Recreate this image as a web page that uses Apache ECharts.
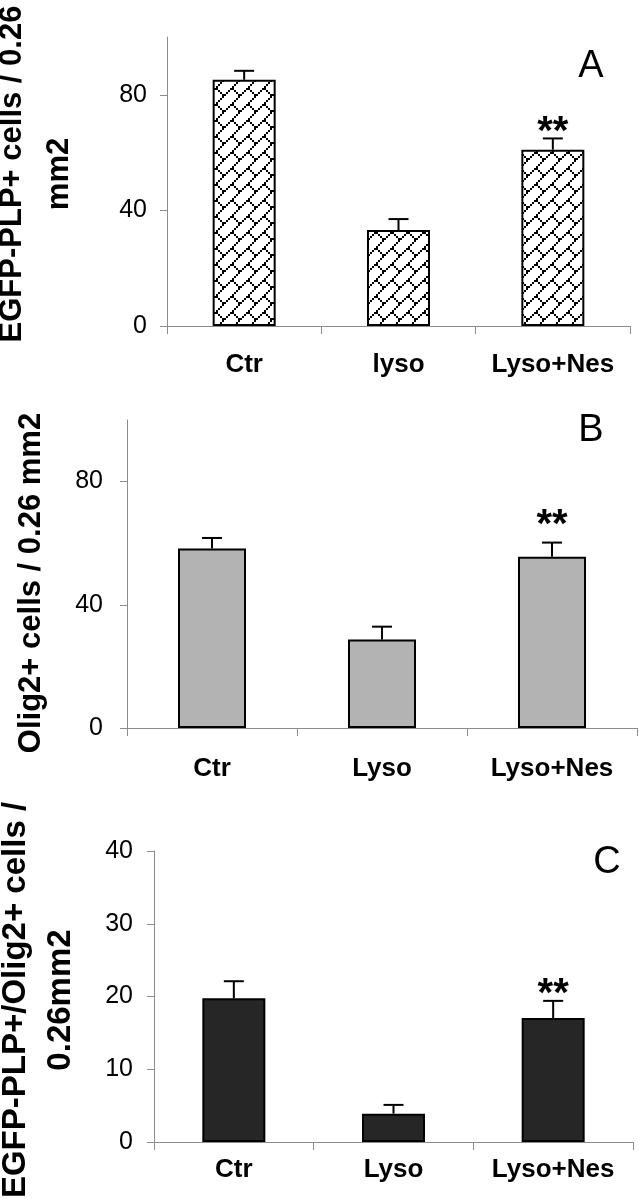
<!DOCTYPE html>
<html>
<head>
<meta charset="utf-8">
<script src="https://cdn.jsdelivr.net/npm/echarts@6/dist/echarts.min.js"></script>
<style>
html,body{margin:0;padding:0;background:#fff;}
#chart{width:639px;height:1199px;}
</style>
</head>
<body>
<div id="chart"></div>
<script>
// ---- data ----
const categoriesA = ['Ctr', 'lyso', 'Lyso+Nes'];
const categoriesB = ['Ctr', 'Lyso', 'Lyso+Nes'];
const categoriesC = ['Ctr', 'Lyso', 'Lyso+Nes'];
const valuesA = [85.2, 33.2, 61.0];
const errorsA = [3.1, 3.8, 3.9];
const valuesB = [58.3, 28.7, 55.6];
const errorsB = [3.4, 4.2, 4.6];
const valuesC = [19.75, 3.9, 17.05];
const errorsC = [2.35, 1.2, 2.35];
const signifA = ['', '', '**'];
const signifB = ['', '', '**'];
const signifC = ['', '', '**'];
const ticksA = [0, 40, 80];
const ticksB = [0, 40, 80];
const ticksC = [0, 10, 20, 30, 40];
const titleA = 'EGFP-PLP+ cells / 0.26\nmm2';
const titleB = 'Olig2+ cells / 0.26 mm2';
const titleC = 'EGFP-PLP+/Olig2+ cells /\n0.26mm2';
const panelLetters = ['A', 'B', 'C'];

// ---- pattern (diagonal brick) ----
function makeBrick() {
  const c = document.createElement('canvas');
  c.width = 16; c.height = 16;
  const ctx = c.getContext('2d');
  ctx.fillStyle = '#fff';
  ctx.fillRect(0, 0, 16, 16);
  ctx.fillStyle = '#000';
  const rows = [0x01, 0x02, 0x04, 0x08, 0x18, 0x24, 0x42, 0x81];
  for (let r = 0; r < 8; r++) {
    for (let b = 0; b < 8; b++) {
      if (rows[r] & (1 << (7 - b))) ctx.fillRect(b * 2, r * 2, 2, 2);
    }
  }
  return c;
}
const brick = makeBrick();

const FONT = '"Liberation Sans", Arial, Helvetica, sans-serif';
const chart = echarts.init(document.getElementById('chart'), null, {renderer: 'canvas'});

const panels = [
  {grid: {left: 167, right: 9, top: 37, height: 289}, cats: categoriesA, vals: valuesA, errs: errorsA, sig: signifA,
   ticks: ticksA, max: 100, interval: 40, fill: {image: brick, repeat: 'repeat'}, barWidth: 63,
   ylabMargin: 20, xlabMargin: 26, sigGap: 5},
  {grid: {left: 127, right: 2, top: 420, height: 308}, cats: categoriesB, vals: valuesB, errs: errorsB, sig: signifB,
   ticks: ticksB, max: 100, interval: 40, fill: '#b3b3b3', barWidth: 68,
   ylabMargin: 24, xlabMargin: 28, sigGap: 17},
  {grid: {left: 154, right: 6, top: 851, height: 291}, cats: categoriesC, vals: valuesC, errs: errorsC, sig: signifC,
   ticks: ticksC, max: 40, interval: 10, fill: '#262626', barWidth: 63,
   ylabMargin: 21, xlabMargin: 15, sigGap: 6}
];

const grid = [], xAxis = [], yAxis = [], series = [];
panels.forEach((p, i) => {
  grid.push(Object.assign({containLabel: false}, p.grid));
  xAxis.push({
    type: 'category', gridIndex: i, data: p.cats, boundaryGap: true,
    axisLine: {lineStyle: {color: '#8c8c8c', width: 1}},
    axisTick: {show: true, inside: false, length: 8, alignWithLabel: false, lineStyle: {color: '#8c8c8c'}},
    axisLabel: {color: '#000', fontFamily: FONT, fontWeight: 'bold', fontSize: 26, margin: p.xlabMargin, interval: 0},
    splitLine: {show: false}
  });
  yAxis.push({
    type: 'value', gridIndex: i, min: 0, max: p.max, interval: p.interval,
    axisLine: {show: true, lineStyle: {color: '#8c8c8c', width: 1}},
    axisTick: {show: true, length: 7, lineStyle: {color: '#8c8c8c'}, customValues: p.ticks},
    axisLabel: {color: '#000', fontFamily: FONT, fontSize: 25, margin: p.ylabMargin, customValues: p.ticks},
    splitLine: {show: false}
  });
  series.push({
    type: 'bar', xAxisIndex: i, yAxisIndex: i, data: p.vals, barWidth: p.barWidth,
    itemStyle: {color: p.fill, borderColor: '#000', borderWidth: 2},
    silent: true, animation: false
  });
  const errData = p.vals.map((v, k) => [k, v, p.errs[k], k]);
  series.push({
    type: 'custom', xAxisIndex: i, yAxisIndex: i, data: errData, animation: false, silent: true, z: 5,
    encode: {x: 0, y: 1},
    renderItem: function (params, api) {
      const k = api.value(0), v = api.value(1), e = api.value(2);
      const p0 = api.coord([k, v]);
      const p1 = api.coord([k, v + e]);
      const half = 10;
      const children = [
        {type: 'line', shape: {x1: p0[0], y1: p0[1], x2: p1[0], y2: p1[1]}, style: {stroke: '#000', lineWidth: 2}},
        {type: 'line', shape: {x1: p1[0] - half, y1: p1[1], x2: p1[0] + half, y2: p1[1]}, style: {stroke: '#000', lineWidth: 2}}
      ];
      const s = p.sig[api.value(3)];
      if (s) {
        children.push({type: 'text', style: {text: s, x: p1[0], y: p1[1] - p.sigGap, align: 'center', verticalAlign: 'middle',
          font: 'bold 40px ' + FONT, fill: '#000'}});
      }
      return {type: 'group', children: children};
    }
  });
});

const graphic = [
  {type: 'text', x: 591, y: 67, style: {text: panelLetters[0], font: '38px ' + FONT, fill: '#000', align: 'center', verticalAlign: 'middle'}},
  {type: 'text', x: 591, y: 431, style: {text: panelLetters[1], font: '38px ' + FONT, fill: '#000', align: 'center', verticalAlign: 'middle'}},
  {type: 'text', x: 607, y: 863, style: {text: panelLetters[2], font: '38px ' + FONT, fill: '#000', align: 'center', verticalAlign: 'middle'}},
  {type: 'text', x: 36, y: 174, rotation: Math.PI / 2,
   style: {text: titleA, font: 'bold 31px ' + FONT, fill: '#000', align: 'center', verticalAlign: 'middle', lineHeight: 47}},
  {type: 'text', x: 31, y: 583, rotation: Math.PI / 2,
   style: {text: titleB, font: 'bold 31px ' + FONT, fill: '#000', align: 'center', verticalAlign: 'middle'}},
  {type: 'text', x: 38, y: 1000, rotation: Math.PI / 2,
   style: {text: titleC, font: 'bold 33px ' + FONT, fill: '#000', align: 'center', verticalAlign: 'middle', lineHeight: 45}}
];

chart.setOption({
  animation: false,
  backgroundColor: '#fff',
  grid: grid, xAxis: xAxis, yAxis: yAxis, series: series, graphic: graphic
});
</script>
</body>
</html>
